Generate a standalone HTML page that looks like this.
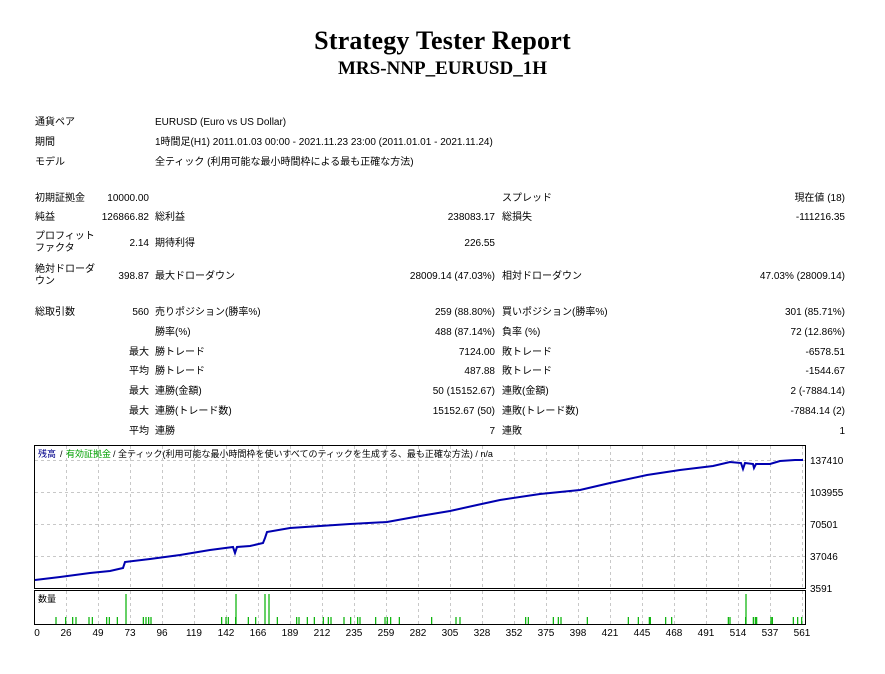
<!DOCTYPE html>
<html><head><meta charset="utf-8"><style>
body{margin:0;width:885px;height:674px;background:#fff;position:relative;overflow:hidden;font-family:"Liberation Sans","Noto Sans CJK JP",sans-serif;font-size:10px;color:#000}
#tb{position:absolute;left:0;top:2px;width:885px;height:440px}
.t{position:absolute;white-space:nowrap;line-height:12px}
.r{text-align:right}
h1{position:absolute;margin:0;left:0;width:885px;text-align:center;font-family:"Liberation Serif",serif;font-weight:bold}
</style></head><body>
<h1 style="top:26px;font-size:26px;letter-spacing:0.2px">Strategy Tester Report</h1>
<h1 style="top:58px;font-size:19px">MRS-NNP_EURUSD_1H</h1>
<div id="tb">
<div class="t" style="left:35px;top:115px">通貨ペア</div><div class="t" style="left:155px;top:115px">EURUSD (Euro vs US Dollar)</div>
<div class="t" style="left:35px;top:135px">期間</div><div class="t" style="left:155px;top:135px">1時間足(H1) 2011.01.03 00:00 - 2021.11.23 23:00 (2011.01.01 - 2021.11.24)</div>
<div class="t" style="left:35px;top:155px">モデル</div><div class="t" style="left:155px;top:155px">全ティック (利用可能な最小時間枠による最も正確な方法)</div>

<div class="t" style="left:35px;top:191px">初期証拠金</div><div class="t r" style="right:736px;top:191px">10000.00</div>
<div class="t" style="left:502px;top:191px">スプレッド</div><div class="t r" style="right:40px;top:191px">現在値 (18)</div>

<div class="t" style="left:35px;top:210px">純益</div><div class="t r" style="right:736px;top:210px">126866.82</div>
<div class="t" style="left:155px;top:210px">総利益</div><div class="t r" style="right:390px;top:210px">238083.17</div>
<div class="t" style="left:502px;top:210px">総損失</div><div class="t r" style="right:40px;top:210px">-111216.35</div>

<div class="t" style="left:35px;top:229px">プロフィット<br>ファクタ</div><div class="t r" style="right:736px;top:236px">2.14</div>
<div class="t" style="left:155px;top:236px">期待利得</div><div class="t r" style="right:390px;top:236px">226.55</div>

<div class="t" style="left:35px;top:262px">絶対ドローダ<br>ウン</div><div class="t r" style="right:736px;top:269px">398.87</div>
<div class="t" style="left:155px;top:269px">最大ドローダウン</div><div class="t r" style="right:390px;top:269px">28009.14 (47.03%)</div>
<div class="t" style="left:502px;top:269px">相対ドローダウン</div><div class="t r" style="right:40px;top:269px">47.03% (28009.14)</div>

<div class="t" style="left:35px;top:305px">総取引数</div><div class="t r" style="right:736px;top:305px">560</div>
<div class="t" style="left:155px;top:305px">売りポジション(勝率%)</div><div class="t r" style="right:390px;top:305px">259 (88.80%)</div>
<div class="t" style="left:502px;top:305px">買いポジション(勝率%)</div><div class="t r" style="right:40px;top:305px">301 (85.71%)</div>

<div class="t" style="left:155px;top:325px">勝率(%)</div><div class="t r" style="right:390px;top:325px">488 (87.14%)</div>
<div class="t" style="left:502px;top:325px">負率 (%)</div><div class="t r" style="right:40px;top:325px">72 (12.86%)</div>

<div class="t r" style="right:736px;top:345px">最大</div><div class="t" style="left:155px;top:345px">勝トレード</div><div class="t r" style="right:390px;top:345px">7124.00</div>
<div class="t" style="left:502px;top:345px">敗トレード</div><div class="t r" style="right:40px;top:345px">-6578.51</div>

<div class="t r" style="right:736px;top:364px">平均</div><div class="t" style="left:155px;top:364px">勝トレード</div><div class="t r" style="right:390px;top:364px">487.88</div>
<div class="t" style="left:502px;top:364px">敗トレード</div><div class="t r" style="right:40px;top:364px">-1544.67</div>

<div class="t r" style="right:736px;top:384px">最大</div><div class="t" style="left:155px;top:384px">連勝(金額)</div><div class="t r" style="right:390px;top:384px">50 (15152.67)</div>
<div class="t" style="left:502px;top:384px">連敗(金額)</div><div class="t r" style="right:40px;top:384px">2 (-7884.14)</div>

<div class="t r" style="right:736px;top:404px">最大</div><div class="t" style="left:155px;top:404px">連勝(トレード数)</div><div class="t r" style="right:390px;top:404px">15152.67 (50)</div>
<div class="t" style="left:502px;top:404px">連敗(トレード数)</div><div class="t r" style="right:40px;top:404px">-7884.14 (2)</div>

<div class="t r" style="right:736px;top:424px">平均</div><div class="t" style="left:155px;top:424px">連勝</div><div class="t r" style="right:390px;top:424px">7</div>
<div class="t" style="left:502px;top:424px">連敗</div><div class="t r" style="right:40px;top:424px">1</div>
</div>
<svg style="position:absolute;left:0;top:0" width="885" height="674" font-family="Liberation Sans, Noto Sans CJK JP, sans-serif" font-size="10">
<g stroke="#c8c8c8" stroke-dasharray="3,3" stroke-width="1">
<path d="M35 460.5H805M35 492.5H805M35 524.5H805M35 556.5H805"/>
<path d="M66.5 446V588M98.5 446V588M130.5 446V588M162.5 446V588M194.5 446V588M226.5 446V588M258.5 446V588M290.5 446V588M322.5 446V588M354.5 446V588M386.5 446V588M418.5 446V588M450.5 446V588M482.5 446V588M514.5 446V588M546.5 446V588M578.5 446V588M610.5 446V588M642.5 446V588M674.5 446V588M706.5 446V588M738.5 446V588M770.5 446V588M802.5 446V588"/>
<path d="M66.5 591V624M98.5 591V624M130.5 591V624M162.5 591V624M194.5 591V624M226.5 591V624M258.5 591V624M290.5 591V624M322.5 591V624M354.5 591V624M386.5 591V624M418.5 591V624M450.5 591V624M482.5 591V624M514.5 591V624M546.5 591V624M578.5 591V624M610.5 591V624M642.5 591V624M674.5 591V624M706.5 591V624M738.5 591V624M770.5 591V624M802.5 591V624"/>
</g>
<rect x="34.5" y="445.5" width="771" height="143" fill="none" stroke="#000"/>
<rect x="34.5" y="590.5" width="771" height="34" fill="none" stroke="#000"/>
<text x="38" y="457" fill="#00008b" font-size="9">残高</text><text x="60" y="457" font-size="9" fill="#000">/</text>
<text x="66" y="457" fill="#00a000" font-size="9">有効証拠金</text><text x="113" y="457" font-size="9">/ 全ティック(利用可能な最小時間枠を使いすべてのティックを生成する、最も正確な方法) / n/a</text>
<polyline fill="none" stroke="#0000b0" stroke-width="2" points="35,580 60,577 90,573 110,571 123,568 125,562 150,559 180,555 210,550 233,547 235,553 237,547 250,546 263,543 265,538 267,532 290,528 320,526 350,524 387,522 420,516 450,511 477,505 500,500 540,494 580,490 610,483 647,475 680,470 713,466 730,462 741,463 743,469 745,463 753,464 754,468 756,464 770,464 780,461 795,460 803,460"/>
<text x="38" y="602" font-size="9">数量</text>
<g stroke="#00b000" stroke-width="1.2" id="v"></g>
<g font-size="10" id="xl"></g>
<g font-size="10">
<text x="810" y="464">137410</text><text x="810" y="496">103955</text><text x="810" y="528">70501</text><text x="810" y="560">37046</text><text x="810" y="592">3591</text>
</g>
</svg>
<script>
var v=document.getElementById('v'),s='';
var sm=[78,107,128,138,177,187,230,238,262,340,348,356,363,575,588,595,617,655,677,742,800,807,832,853,880,895,903,942,962,983,990,1037,1065,1072,1082,1108,1205,1278,1290].map(p=>30+p/3).concat([137,145,220,235,243,322,445,475,508,511,557,575,745,750,797,820,826,830,873,877,940,953,965].map(p=>480+p/3));
sm.forEach(x=>{s+='<line x1="'+x+'" x2="'+x+'" y1="617" y2="624"/>'});
[126,236,265,269,746].forEach(x=>{s+='<line x1="'+x+'" x2="'+x+'" y1="594" y2="624"/>'});
v.innerHTML=s;
var L=[0,26,49,73,96,119,142,166,189,212,235,259,282,305,328,352,375,398,421,445,468,491,514,537,561],t='';
L.forEach((n,k)=>{var x=k==0?37:34+32*k;t+='<text x="'+x+'" y="636" text-anchor="middle">'+n+'</text>'});
document.getElementById('xl').innerHTML=t;
</script>
</body></html>
